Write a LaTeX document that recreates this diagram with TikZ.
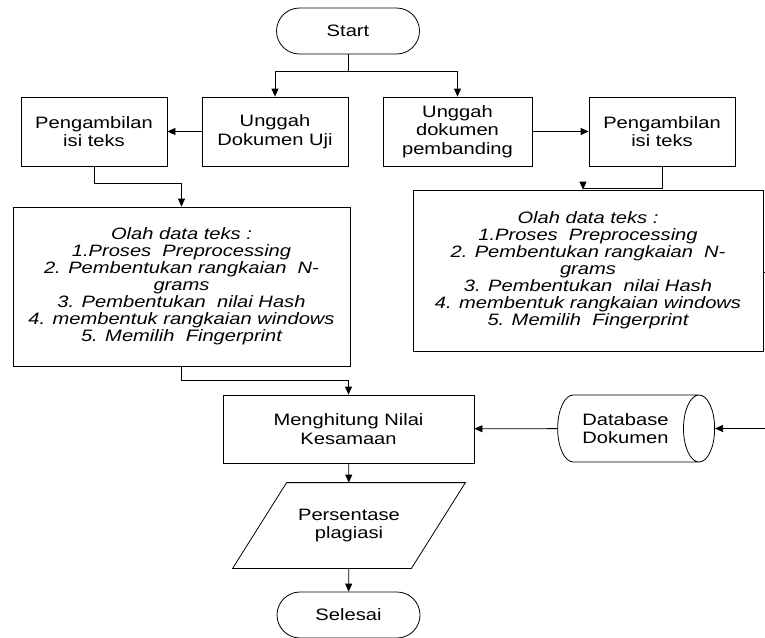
\documentclass[tikz,border=0pt]{standalone}
\usepackage{fontspec}
\setmainfont{Liberation Sans}[FakeStretch=1.22]
\usepackage{tikz}
\usetikzlibrary{arrows.meta,shapes.geometric,shapes.misc}
\tikzset{FCbase/.style={draw,line width=0.8pt,align=center,inner sep=2pt,font=\fontsize{16.5}{18.5}\selectfont}}
\tikzset{FCterm/.style={FCbase,rounded rectangle,minimum width=147pt,minimum height=46pt}}
\tikzset{FCproc/.style={FCbase,rectangle,minimum width=146pt,minimum height=69pt}}
\tikzset{FColah/.style={FCbase,rectangle,font=\fontsize{16.5}{17}\selectfont\itshape}}
\tikzset{FCdata/.style={FCbase,draw=none,rectangle,minimum width=178pt,minimum height=85pt}}
\tikzset{FCstore/.style={FCbase,cylinder,aspect=0.9,minimum height=157pt,minimum width=67pt}}
\tikzset{FClink/.style={line width=0.8pt,-{Triangle[length=8pt,width=7pt]}}}

\begin{document}
\begin{tikzpicture}[x=1pt,y=-1pt]
	\useasboundingbox (0,0) rectangle (765,637);
	\clip (0,0) rectangle (765,637);
	\node[FCterm] (start) at (348,31) {Start};
	\node[FCproc] (uji) at (275,131.5) {Unggah\\Dokumen Uji};
	\node[FCproc] (ambilL) at (94,131.5) {Pengambilan\\isi teks};
	\node[FCproc,minimum width=149pt] (banding) at (457.5,131.5) {Unggah\\dokumen\\pembanding};
	\node[FCproc] (ambilR) at (662,131.5) {Pengambilan\\isi teks};
	\node[FColah,minimum width=337pt,minimum height=159pt] (olahL) at (181.5,286.5) {Olah data teks :\\1.Proses~ Preprocessing\\2. Pembentukan rangkaian~ N-\\grams\\3. Pembentukan~ nilai Hash\\4. membentuk rangkaian windows\\5. Memilih~ Fingerprint};
	\node[FColah,minimum width=350pt,minimum height=161pt] (olahR) at (588,270.5) {Olah data teks :\\1.Proses~ Preprocessing\\2. Pembentukan rangkaian~ N-\\grams\\3. Pembentukan~ nilai Hash\\4. membentuk rangkaian windows\\5. Memilih~ Fingerprint};
	\node[FCproc,minimum width=251pt,minimum height=68pt] (hitung) at (348.5,429) {Menghitung Nilai\\Kesamaan};
	\node[FCstore] (db) at (625.5,428.5) {Database\\Dokumen};
	\node[FCdata] (persen) at (349,525.5) {Persentase\\plagiasi};
	\node[FCterm] (selesai) at (348.5,615) {Selesai};
	\coordinate (outR) at (780,272);
	\coordinate (inR) at (780,428.5);
	%
	\draw[line width=0.8pt] ([xshift=27pt]persen.north west) -- ([xshift=27pt]persen.north east)
		-- ([xshift=-27pt]persen.south east) -- ([xshift=-27pt]persen.south west) -- cycle;
	\draw[line width=0.8pt] (start.south) -- ++(0,17) coordinate (split);
	\draw[FClink] (split) -| (uji.north);
	\draw[FClink] (split) -| (banding.north);
	\draw[FClink] (ambilL.south) -- ++(0,17) -| (olahL.north);
	\draw[FClink] (ambilR.south) -- ++(0,22) -| ([xshift=-5pt]olahR.north);
	\draw[FClink] (olahL.south) -- ++(0,14) -| (hitung.north);
	\path[FClink]
	(uji) edge (ambilL)
	(banding) edge (ambilR)
	(db) edge (hitung)
	(inR) edge (db.east)
	(hitung) edge (persen)
	(persen) edge (selesai);
	\draw[line width=0.8pt] (olahR.east |- outR) -- (outR);
\end{tikzpicture}
\end{document}
